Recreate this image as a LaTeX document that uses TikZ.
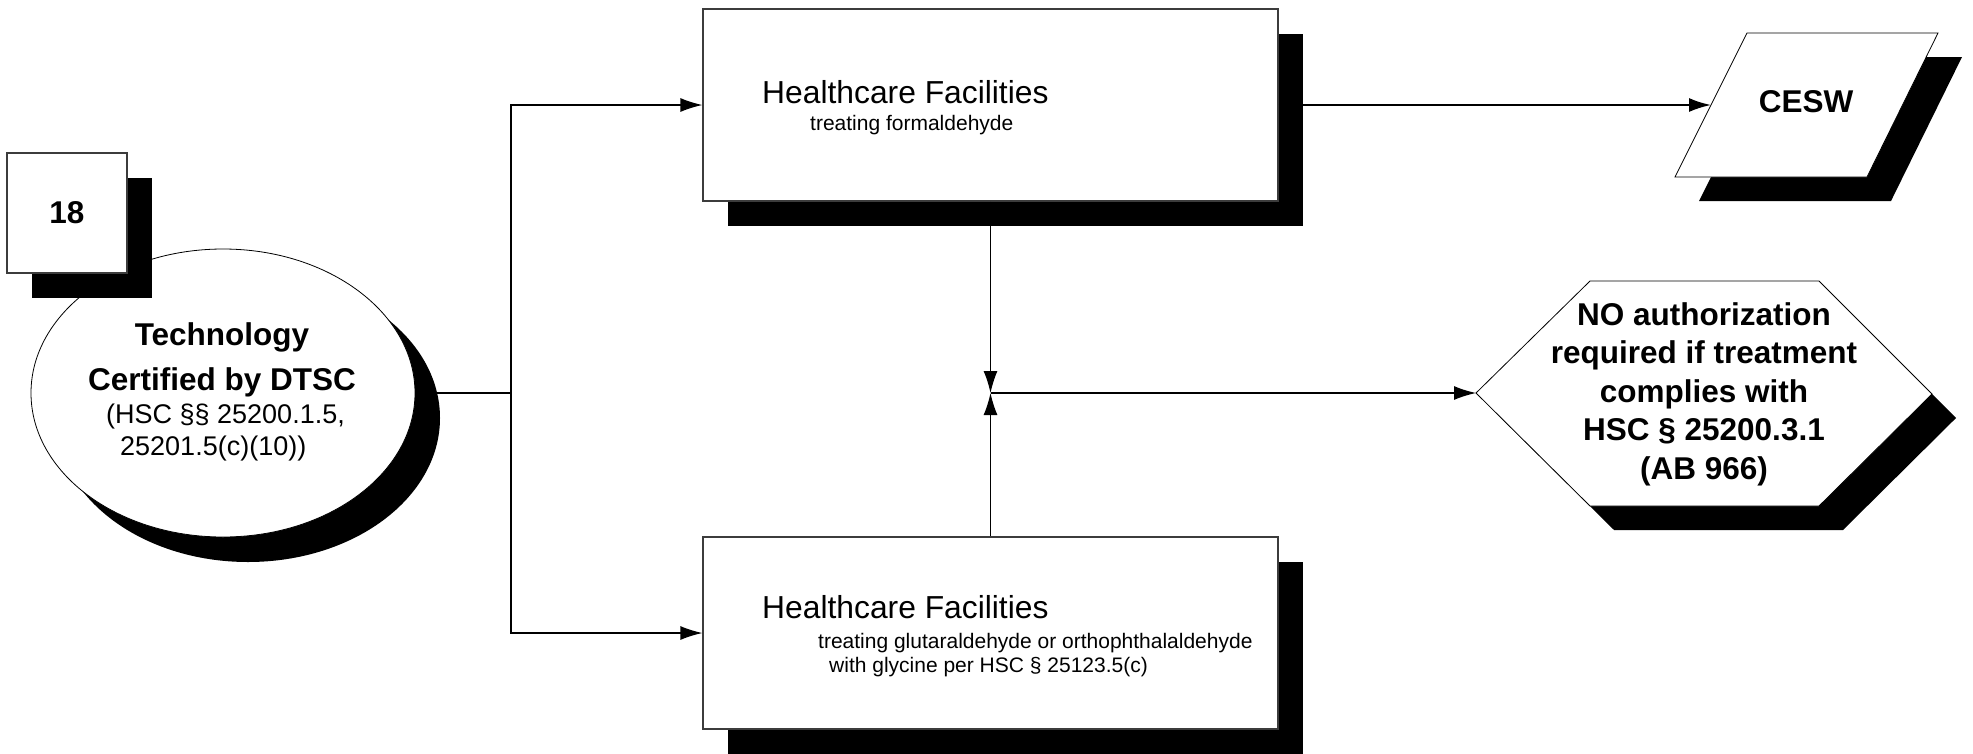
\documentclass[tikz,border=0pt]{standalone}
\usepackage{fontspec}
\setmainfont{Liberation Sans}
\usepackage{tikz}
\usetikzlibrary{shapes.geometric, shadows, arrows.meta}
\tikzset{>={Latex[length=22pt,width=14pt]}}
\newcommand{\fhead}{\fontsize{31.8}{38}\selectfont}
\newcommand{\fbold}{\fontsize{31.5}{38.5}\selectfont\bfseries}
\newcommand{\fmid}{\fontsize{27}{32}\selectfont}
\newcommand{\fsmall}{\fontsize{21}{25}\selectfont}
\definecolor{myline}{RGB}{60, 60, 60}

\begin{document}
\begin{tikzpicture}[x = 1pt, y = -1pt,
  shadowed/.style = {fill = white, drop shadow = {shadow xshift = 25pt, shadow yshift = -25pt, opacity = 1, fill = black}},
  facbox/.style = {shadowed, draw = myline, line width = 1.2pt, rectangle, minimum width = 575pt, minimum height = 192pt, inner sep = 0pt},
  txt/.style = {inner sep = 0pt, anchor = base west},
  conn/.style = {draw = black, line width = 1.2pt}]

\useasboundingbox (0,0) rectangle (1973,753);

% start: certified technology
\node[shadowed, draw, line width = 0.8pt, ellipse, minimum width = 384pt, minimum height = 288pt, inner sep = 0pt] (tech) at (223,393) {};
\node[shadowed, draw = myline, line width = 1.2pt, minimum width = 120pt, minimum height = 120pt, inner sep = 0pt, font = \fbold] (num) at (67,213) {18};
\node[inner sep = 0pt, anchor = base, font = \fbold] (techA) at (222,345) {Technology};
\node[inner sep = 0pt, anchor = base, font = \fbold] (techB) at (222,390) {Certified by DTSC};
\node[txt, font = \fmid] (techC) at (106,423) {(HSC §§ 25200.1.5,};
\node[txt, font = \fmid] (techD) at (120,455) {25201.5(c)(10))};

% healthcare facilities
\node[facbox] (topbox) at (990.5,105) {};
\node[txt, font = \fhead] (topA) at (762,103) {Healthcare Facilities};
\node[txt, font = \fsmall] (topB) at (810,130) {treating formaldehyde};

\node[facbox] (botbox) at (990.5,633) {};
\node[txt, font = \fhead] (botA) at (762,618) {Healthcare Facilities};
\node[txt, font = \fsmall] (botB) at (818,648) {treating glutaraldehyde or orthophthalaldehyde};
\node[txt, font = \fsmall] (botC) at (829,672) {with glycine per HSC § 25123.5(c)};

% CESW
\fill[shift = {(24,24)}] (1747,33) -- (1938,33) -- (1867,177) -- (1675,177) -- cycle;
\draw[fill = white, line width = 0.8pt] (1747,33) -- (1938,33) -- (1867,177) -- (1675,177) -- cycle;
\coordinate (ceswW) at (1711,105);
\node[font = \fbold] (cesw) at (1806,102) {CESW};

% no authorization
\fill[shift = {(24,24)}] (1476,393) -- (1590,281) -- (1819,281) -- (1932,394) -- (1819,506) -- (1590,506) -- cycle;
\draw[fill = white, line width = 0.8pt] (1476,393) -- (1590,281) -- (1819,281) -- (1932,394) -- (1819,506) -- (1590,506) -- cycle;
\coordinate (hexW) at (1476,393);
\node[font = \fbold, align = center, inner sep = 0pt] (noauth) at (1704,394) {NO authorization\\required if treatment\\complies with\\HSC § 25200.3.1\\(AB 966)};

% connectors
\coordinate (split) at (511,393);
\coordinate (meet) at (990.5,393);
\draw[conn] (tech.east) -- (split);
\draw[conn, ->] (split) |- (topbox.west);
\draw[conn, ->] (split) |- (botbox.west);
\draw[conn, ->] (topbox.south) -- (meet);
\draw[conn, ->] (botbox.north) -- (meet);
\draw[conn, ->] (meet) -- (hexW);
\draw[->, line width = 2pt] (topbox.east) -- (ceswW);

\end{tikzpicture}
\end{document}
